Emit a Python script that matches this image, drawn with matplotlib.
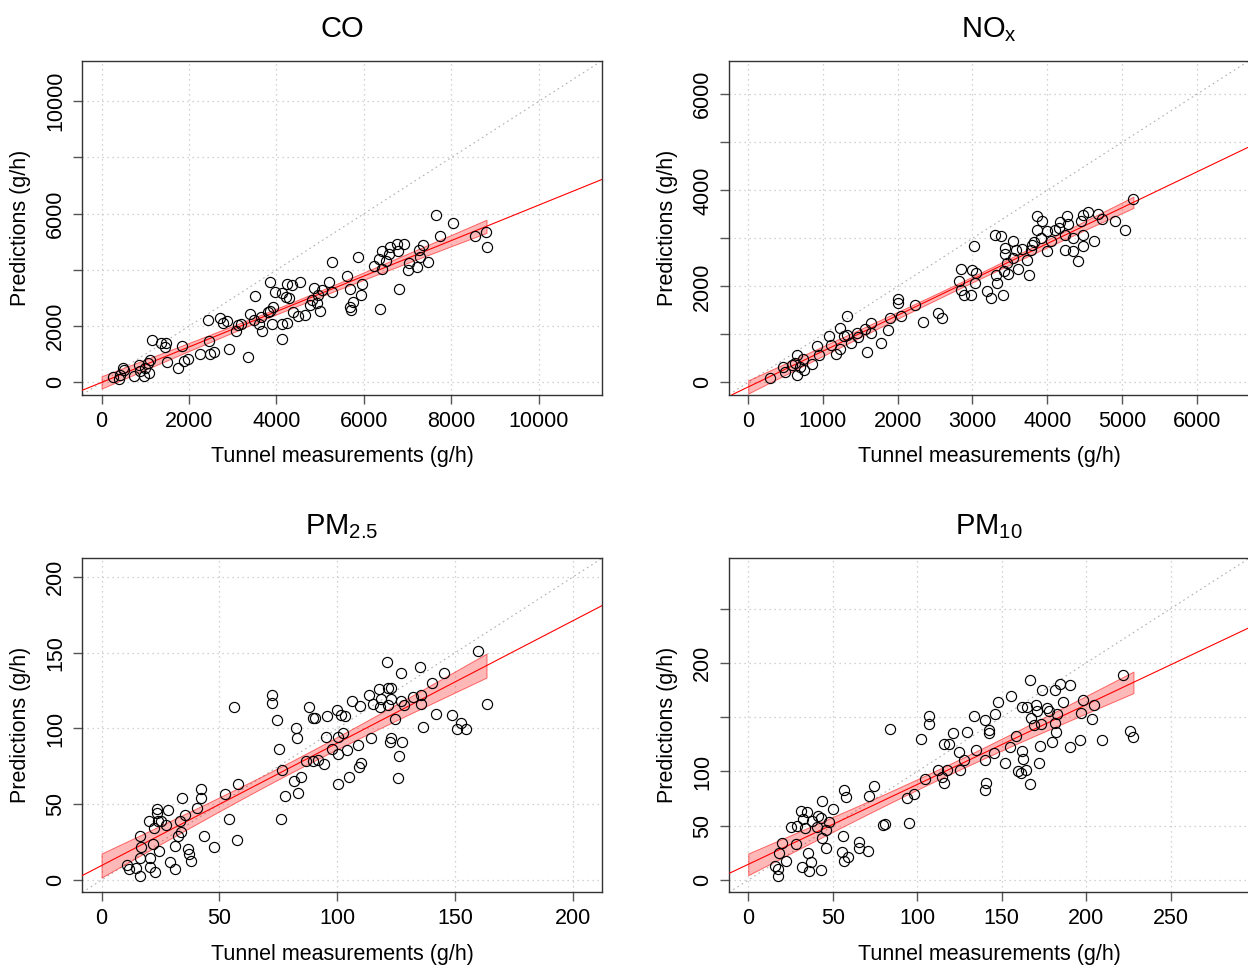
#!/usr/bin/env python3
from __future__ import annotations

import matplotlib
matplotlib.use("Agg")
import matplotlib.pyplot as plt
import numpy as np

plt.rcParams["font.family"] = ["Liberation Sans", "DejaVu Sans"]
plt.rcParams["mathtext.fontset"] = "custom"
plt.rcParams["mathtext.rm"] = "Liberation Sans"
plt.rcParams["mathtext.it"] = "Liberation Sans:italic"

co_points = [
    (7643, 5967), (8037, 5682), (7736, 5219), (8539, 5219), (8779, 5338), (8802, 4816), (7349, 4875), (7249, 4709),
    (7288, 4472), (7473, 4270), (7210, 4092), (7002, 3998), (7025, 4235), (6793, 3321), (6360, 2610), (6754, 4911),
    (6917, 4911), (6592, 4828), (6414, 4685), (6577, 4567), (6777, 4674), (6345, 4401), (6499, 4330), (6237, 4152),
    (6414, 4045), (5858, 4472), (5263, 4270), (5611, 3784), (5680, 3310), (5966, 3499), (5943, 3108), (5750, 2871),
    (5688, 2693), (5703, 2574), (5201, 3559), (4853, 3369), (5039, 3286), (5278, 3226), (4946, 3108), (4822, 2930),
    (4776, 2740), (4992, 2538), (4652, 2396), (4498, 2372), (4382, 2515), (3856, 3559), (4243, 3511), (4351, 3476),
    (4544, 3559), (3957, 3203), (4127, 3167), (4227, 3049), (4289, 2989), (3501, 3072), (3918, 2693), (3802, 2515),
    (3640, 2337), (3400, 2420), (3478, 2218), (3594, 2076), (3895, 2076), (4134, 2076), (4235, 2123), (3671, 1839),
    (4127, 1542), (3192, 2076), (3114, 2028), (3076, 1827), (2705, 2278), (2774, 2123), (2859, 2194), (2427, 2218),
    (2458, 1483), (2913, 1186), (3338, 913), (2566, 1068), (2481, 996), (2249, 996), (1986, 830), (1886, 747),
    (1839, 1305), (1747, 522), (1151, 1506), (1368, 1388), (1476, 1388), (1453, 1269), (1499, 712), (1097, 795),
    (1059, 676), (997, 498), (1090, 320), (981, 237), (866, 617), (750, 237), (873, 403), (487, 522),
    (518, 439), (433, 261), (402, 119), (270, 202), (4930, 2835), (3848, 2538),
]

nox_points = [
    (5154, 3827), (5042, 3166), (4912, 3354), (4729, 3403), (4684, 3514), (4550, 3549), (4474, 3493), (4456, 3354),
    (4474, 3076), (4626, 2951), (4474, 2832), (4340, 3006), (4237, 2763), (4340, 2742), (4416, 2533), (4264, 3473),
    (4174, 3340), (4273, 3306), (4232, 3076), (4107, 3180), (4004, 3145), (3937, 3354), (3861, 3459), (3870, 3180),
    (3915, 3006), (4049, 2937), (3995, 2728), (3803, 2867), (3780, 2763), (3736, 2554), (3660, 2784), (3615, 2359),
    (3758, 2241), (3543, 2951), (3436, 2797), (3436, 2679), (3543, 2589), (3467, 2484), (3423, 2310), (3481, 2262),
    (3382, 3041), (3302, 3076), (3311, 2241), (3333, 2067), (3199, 1907), (3244, 1754), (3414, 1809), (3015, 2846),
    (2841, 2359), (2998, 2331), (3042, 2276), (2819, 2102), (3033, 2067), (2841, 1928), (2886, 1809), (2975, 1809),
    (2004, 1733), (2004, 1649), (2237, 1614), (2049, 1392), (2335, 1267), (2537, 1441), (2586, 1336), (1893, 1350),
    (1870, 1093), (1781, 814), (1642, 1232), (1642, 1023), (1588, 626), (1557, 1106), (1454, 1037), (1467, 939),
    (1369, 814), (1324, 1392), (1230, 1127), (1320, 988), (1275, 974), (1221, 689), (1172, 592), (1074, 967),
    (1110, 779), (917, 759), (953, 571), (850, 383), (649, 571), (738, 480), (626, 411), (747, 257),
    (649, 153), (470, 327), (492, 223), (582, 362), (291, 84), (689, 327), (3579, 2763), (3825, 2916),
    (4161, 3215),
]

pm25_points = [
    (159.6, 151.3), (163.3, 116.2), (120.9, 144.1), (135.1, 140.4), (126.9, 136.6), (145.4, 136.6), (140.2, 130.0),
    (135.6, 122.4), (135.6, 116.2), (132.2, 120.6), (128.3, 115.8), (127.2, 118.0), (141.9, 109.7), (148.7, 109.0),
    (152.5, 103.7), (150.8, 99.8), (154.4, 99.8), (136.3, 100.9), (117.9, 126.1), (121.4, 126.8), (122.9, 126.8),
    (118.6, 119.5), (122.9, 119.5), (113.3, 122.2), (115.0, 116.2), (118.0, 114.0), (121.7, 115.8), (106.4, 117.8),
    (109.5, 114.7), (124.6, 106.4), (114.3, 93.6), (122.9, 93.9), (122.3, 91.4), (127.6, 91.4), (126.0, 81.8),
    (125.7, 67.3), (99.9, 112.5), (101.4, 109.0), (103.2, 108.1), (95.6, 108.1), (90.6, 106.8), (89.6, 106.8),
    (87.9, 114.0), (72.1, 122.4), (72.4, 116.7), (74.3, 105.9), (56.3, 114.0), (82.3, 100.2), (82.9, 93.6),
    (75.3, 86.2), (95.2, 94.3), (102.5, 97.1), (100.2, 94.3), (97.8, 86.6), (100.2, 82.9), (104.2, 85.5),
    (108.8, 89.3), (110.0, 77.4), (109.2, 74.6), (104.9, 68.0), (100.2, 63.6), (94.2, 76.8), (91.8, 78.9),
    (86.7, 78.5), (89.6, 78.5), (76.7, 72.8), (84.6, 68.0), (81.7, 65.1), (83.4, 57.7), (78.0, 55.5),
    (76.1, 40.1), (57.8, 63.6), (52.2, 57.0), (54.1, 40.1), (57.3, 26.3), (47.5, 21.9), (42.3, 59.9),
    (42.3, 54.2), (40.6, 47.6), (43.3, 29.2), (34.3, 54.2), (35.4, 43.2), (33.4, 38.8), (33.7, 31.4),
    (32.5, 29.2), (31.1, 22.4), (36.6, 20.2), (37.1, 17.5), (38.0, 12.5), (31.1, 7.2), (29.0, 11.6),
    (28.2, 46.1), (23.5, 47.1), (23.6, 43.9), (20.1, 38.8), (24.1, 38.8), (25.4, 38.8), (27.5, 36.6),
    (22.2, 34.0), (16.1, 28.9), (16.8, 21.9), (21.8, 24.1), (24.2, 19.1), (16.5, 14.3), (20.5, 14.3),
    (20.5, 8.8), (22.8, 5.0), (16.3, 2.9), (11.0, 9.9), (11.5, 7.0), (14.6, 7.7),
]

pm10_points = [
    (222.1, 188.5), (226.1, 137.5), (228.0, 132.2), (209.1, 129.2), (203.7, 148.5), (204.7, 161.4), (198.4, 165.4),
    (196.8, 153.8), (196.4, 129.2), (190.5, 122.1), (190.5, 179.3), (184.5, 180.5), (181.4, 175.3), (186.1, 163.9),
    (174.0, 175.3), (166.7, 184.5), (155.5, 169.1), (147.9, 163.6), (162.2, 159.0), (164.7, 159.0), (170.5, 161.4),
    (171.1, 155.3), (177.0, 158.4), (178.0, 155.3), (182.9, 152.8), (167.1, 149.1), (181.4, 144.5), (173.1, 143.6),
    (169.3, 142.4), (182.0, 136.2), (180.0, 127.0), (172.7, 123.9), (158.4, 133.1), (154.9, 122.1), (162.2, 119.0),
    (162.8, 111.6), (172.1, 107.6), (159.8, 100.6), (161.2, 99.0), (164.2, 101.0), (166.7, 88.3), (151.7, 107.6),
    (145.4, 116.9), (140.0, 110.7), (141.0, 89.8), (140.0, 83.0), (145.8, 153.1), (140.0, 147.6), (142.4, 138.4),
    (142.4, 135.3), (133.5, 150.7), (129.5, 136.8), (134.9, 119.9), (127.6, 110.7), (125.0, 117.8), (121.0, 135.3),
    (119.1, 125.2), (115.7, 125.2), (125.2, 101.0), (117.7, 101.5), (112.1, 101.0), (114.7, 95.3), (115.7, 89.8),
    (107.0, 150.7), (107.2, 143.6), (102.1, 129.8), (104.4, 93.5), (97.9, 79.3), (93.9, 76.0), (84.1, 139.3),
    (95.1, 52.3), (74.6, 87.0), (71.6, 77.5), (79.5, 50.7), (81.1, 51.4), (70.8, 26.8), (65.7, 34.7),
    (65.7, 29.8), (56.6, 83.0), (57.8, 76.9), (50.4, 65.5), (43.9, 72.9), (56.0, 40.9), (55.2, 25.5),
    (56.4, 17.5), (59.3, 21.5), (47.9, 53.8), (45.9, 46.1), (43.9, 39.1), (45.9, 29.2), (43.3, 9.2),
    (42.9, 56.9), (41.1, 59.3), (37.6, 54.4), (35.0, 62.4), (31.4, 63.7), (32.6, 56.0), (33.6, 47.7),
    (29.1, 50.1), (25.3, 49.2), (40.7, 49.2), (28.1, 32.9), (35.6, 25.2), (37.0, 16.3), (36.0, 8.3),
    (31.6, 12.3), (19.8, 33.8), (18.4, 24.6), (22.3, 17.8), (15.8, 12.9), (17.4, 9.8), (17.4, 4.0),
]

titles = ["CO", r"NO$_{\mathrm{x}}$", r"PM$_{\mathrm{2.5}}$", r"PM$_{\mathrm{10}}$"]
x_ticks = [[0, 2000, 4000, 6000, 8000, 10000], [0, 1000, 2000, 3000, 4000, 5000, 6000],
           [0, 50, 100, 150, 200], [0, 50, 100, 150, 200, 250]]
y_ticks = [[0, 2000, 4000, 6000, 8000, 10000], [0, 1000, 2000, 3000, 4000, 5000, 6000],
           [0, 50, 100, 150, 200], [0, 50, 100, 150, 200, 250]]
y_tick_labels = [["0", "2000", "", "6000", "", "10000"], ["0", "", "2000", "", "4000", "", "6000"],
                 ["0", "50", "100", "150", "200"], ["0", "50", "100", "", "200", ""]]

FIG_W, FIG_H = 1248, 967
# axes boxes in pixels: left, top, right, bottom
BOXES = [(82.3, 60.7, 602.0, 394.7), (729.0, 60.7, 1249.0, 394.7),
         (82.3, 558.3, 602.0, 892.4), (729.0, 558.3, 1249.0, 892.4)]
T_95 = 1.98


def add_axes(fig, box):
    left, top, right, bottom = box
    return fig.add_axes([left / FIG_W, 1 - bottom / FIG_H, (right - left) / FIG_W, (bottom - top) / FIG_H])


def fit_band(x, y, xs):
    n = len(x)
    slope, intercept = np.polyfit(x, y, 1)
    resid = y - (intercept + slope * x)
    s = np.sqrt(np.sum(resid ** 2) / (n - 2))
    sxx = np.sum((x - x.mean()) ** 2)
    fit = intercept + slope * xs
    half = T_95 * s * np.sqrt(1 / n + (xs - x.mean()) ** 2 / sxx)
    return slope, intercept, fit - half, fit + half


def draw_panel(ax, points, title, xt, yt, ytl, box):
    data = np.asarray(points, dtype=float)
    x, y = data[:, 0], data[:, 1]
    lim = 1.25 * max(x.max(), y.max())
    pad = 0.04 * lim
    ax.set_xlim(-pad, lim + pad)
    ax.set_ylim(-pad, lim + pad)

    grid_kw = dict(color="#c4c4c4", linewidth=0.9, linestyle=(0, (1, 3)), zorder=0)
    for t in xt:
        ax.axvline(t, **grid_kw)
    for t in yt:
        ax.axhline(t, **grid_kw)
    ax.axline((0, 0), slope=1, color="#b0b0b0", linewidth=0.8, linestyle=(0, (1.5, 3)), zorder=1)

    xs = np.linspace(0, x.max(), 200)
    slope, intercept, lo, hi = fit_band(x, y, xs)
    ax.fill_between(xs, lo, hi, facecolor=(1, 0, 0, 0.28), edgecolor=(1, 0, 0, 0.55), linewidth=0.7, zorder=2)
    ax.axline((0, intercept), slope=slope, color="red", linewidth=0.8, zorder=3)

    ax.plot(x, y, linestyle="none", marker="o", markersize=7.3, markerfacecolor="none",
            markeredgecolor="black", markeredgewidth=0.85, zorder=4)

    ax.set_xticks(xt)
    ax.set_xticklabels([str(t) for t in xt])
    ax.set_yticks(yt)
    ax.set_yticklabels(ytl, rotation=90, va="center")
    ax.tick_params(axis="both", direction="out", length=6.5, width=1.0, color="#555555",
                   labelsize=15.5, labelcolor="black")
    ax.tick_params(axis="x", pad=5)
    ax.tick_params(axis="y", pad=5)
    for spine in ax.spines.values():
        spine.set_linewidth(1.0)
        spine.set_color("#333333")

    width = box[2] - box[0]
    height = box[3] - box[1]
    ax.set_xlabel("Tunnel measurements (g/h)", fontsize=15.5, va="top")
    ax.xaxis.set_label_coords(0.5, -51.5 / height)
    ax.set_ylabel("Predictions (g/h)", fontsize=15.5, va="center")
    ax.yaxis.set_label_coords(-62.0 / width, 0.5)
    ax.text(0.5, 1 + 24.0 / height, title, transform=ax.transAxes, ha="center", va="baseline", fontsize=21)


def main() -> None:
    fig = plt.figure(figsize=(FIG_W / 100, FIG_H / 100), dpi=100)
    panels = [co_points, nox_points, pm25_points, pm10_points]
    for i, points in enumerate(panels):
        ax = add_axes(fig, BOXES[i])
        draw_panel(ax, points, titles[i], x_ticks[i], y_ticks[i], y_tick_labels[i], BOXES[i])
    fig.savefig("out.png", dpi=100)
    plt.close(fig)


if __name__ == "__main__":
    main()
